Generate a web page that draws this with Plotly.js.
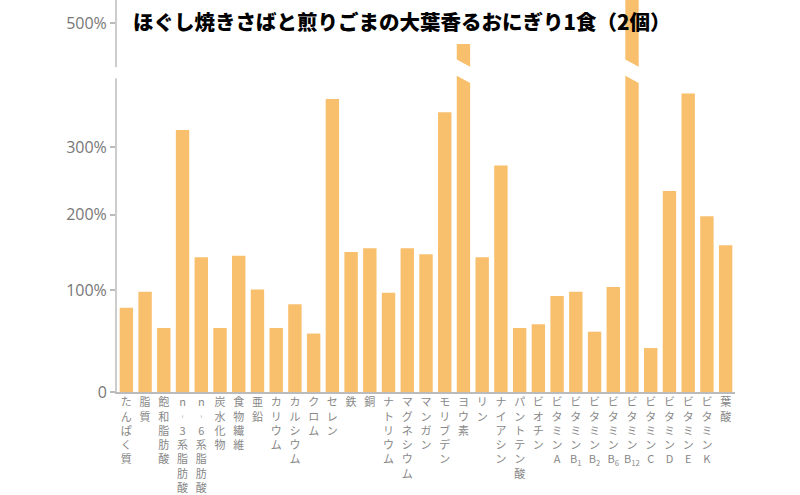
<!DOCTYPE html>
<html>
<head>
<meta charset="utf-8">
<script src="https://cdn.plot.ly/plotly-3.0.1.min.js"></script>
<style>
  body { margin: 0; background: #fff; }
  #chart { width: 800px; height: 495px; }
</style>
</head>
<body>
<div id="chart"></div>
<script>
// 栄養素（1食あたりの充足率 %）
var categories = [
  'たんぱく質', '脂質', '飽和脂肪酸', 'n-3系脂肪酸', 'n-6系脂肪酸', '炭水化物', '食物繊維',
  '亜鉛', 'カリウム', 'カルシウム', 'クロム', 'セレン', '鉄', '銅', 'ナトリウム',
  'マグネシウム', 'マンガン', 'モリブデン', 'ヨウ素', 'リン', 'ナイアシン', 'パントテン酸',
  'ビオチン', 'ビタミンA', 'ビタミンB<sub>1</sub>', 'ビタミンB<sub>2</sub>', 'ビタミンB<sub>6</sub>',
  'ビタミンB<sub>12</sub>', 'ビタミンC', 'ビタミンD', 'ビタミンE', 'ビタミンK', '葉酸'
];
var percent = [
  79, 98, 56, 326, 142, 56, 144,
  101, 56, 83, 50, 375, 149, 154, 97,
  154, 146, 354, 465, 142, 272, 56,
  60, 93, 98, 52, 104,
  600, 35, 234, 384, 198, 158
];
var yTicks = [0, 100, 200, 300, 500];
var yTickLabels = ['0', '100%', '200%', '300%', '500%'];
var breakAt = 420; // これより上は省略表示

// 縦軸は元の図に合わせたべき乗スケール
function sc(v) { return 100 * Math.pow(v / 100, 0.8); }

// 縦書きラベル
function vertical(s) {
  var parts = s.replace('-', '︲').match(/[A-Z]<sub>\d+<\/sub>|./gu);
  return parts.join('<br>');
}

var idx = categories.map(function (c, i) { return i; });
var barW = 0.715;

var trace = {
  type: 'bar',
  x: idx,
  y: percent.map(sc),
  width: barW,
  marker: { color: '#F8BF6C', line: { width: 0 } },
  hoverinfo: 'skip'
};

// 軸と棒の省略記号
var shapes = [];
var t0 = sc(breakAt);
percent.forEach(function (v, i) {
  if (v > breakAt) {
    var x0 = i - barW / 2 - 0.05, x1 = i + barW / 2 + 0.05;
    shapes.push({
      type: 'path', xref: 'x', yref: 'y', layer: 'above',
      path: 'M' + x0 + ',' + (t0 + 12) + ' L' + x1 + ',' + (t0 + 4) +
            ' L' + x1 + ',' + (t0 - 12) + ' L' + x0 + ',' + (t0 - 4) + ' Z',
      fillcolor: '#fff', line: { width: 0 }
    });
  }
});
shapes.push({
  type: 'rect', xref: 'paper', yref: 'y', layer: 'above',
  x0: -0.01, x1: 0.01, y0: t0 - 7, y1: t0 + 4,
  fillcolor: '#fff', line: { width: 0 }
});

var layout = {
  width: 800,
  height: 495,
  margin: { l: 116.6, r: 64.6, t: 0, b: 103.3 },
  paper_bgcolor: '#fff',
  plot_bgcolor: '#fff',
  showlegend: false,
  title: {
    text: 'ほぐし焼きさばと煎りごまの大葉香るおにぎり1食（2個）',
    font: { family: 'Noto Sans CJK JP', size: 20.5, color: '#000', weight: 900 },
    xref: 'container', yref: 'container',
    x: 133 / 800, xanchor: 'left',
    y: 1 - 23 / 495, yanchor: 'middle'
  },
  xaxis: {
    range: [-0.5, categories.length - 0.5],
    tickvals: idx,
    ticktext: categories.map(vertical),
    tickangle: 0,
    ticklabelstandoff: -1,
    tickfont: { family: 'Noto Sans CJK JP', size: 11, color: '#888' },
    ticks: '',
    showline: true, linecolor: '#bbb', linewidth: 2,
    showgrid: false, zeroline: false, fixedrange: true
  },
  yaxis: {
    range: [0, 385.2],
    tickvals: yTicks.map(sc),
    ticktext: yTickLabels,
    tickfont: { family: 'Open Sans', size: 16, color: '#777' },
    ticks: 'outside', ticklen: 5, tickcolor: '#bbb', tickwidth: 1.5,
    showline: true, linecolor: '#ccc', linewidth: 2,
    showgrid: false, zeroline: false, fixedrange: true
  },
  shapes: shapes
};

Plotly.newPlot('chart', [trace], layout, { displayModeBar: false, staticPlot: true });
</script>
</body>
</html>
